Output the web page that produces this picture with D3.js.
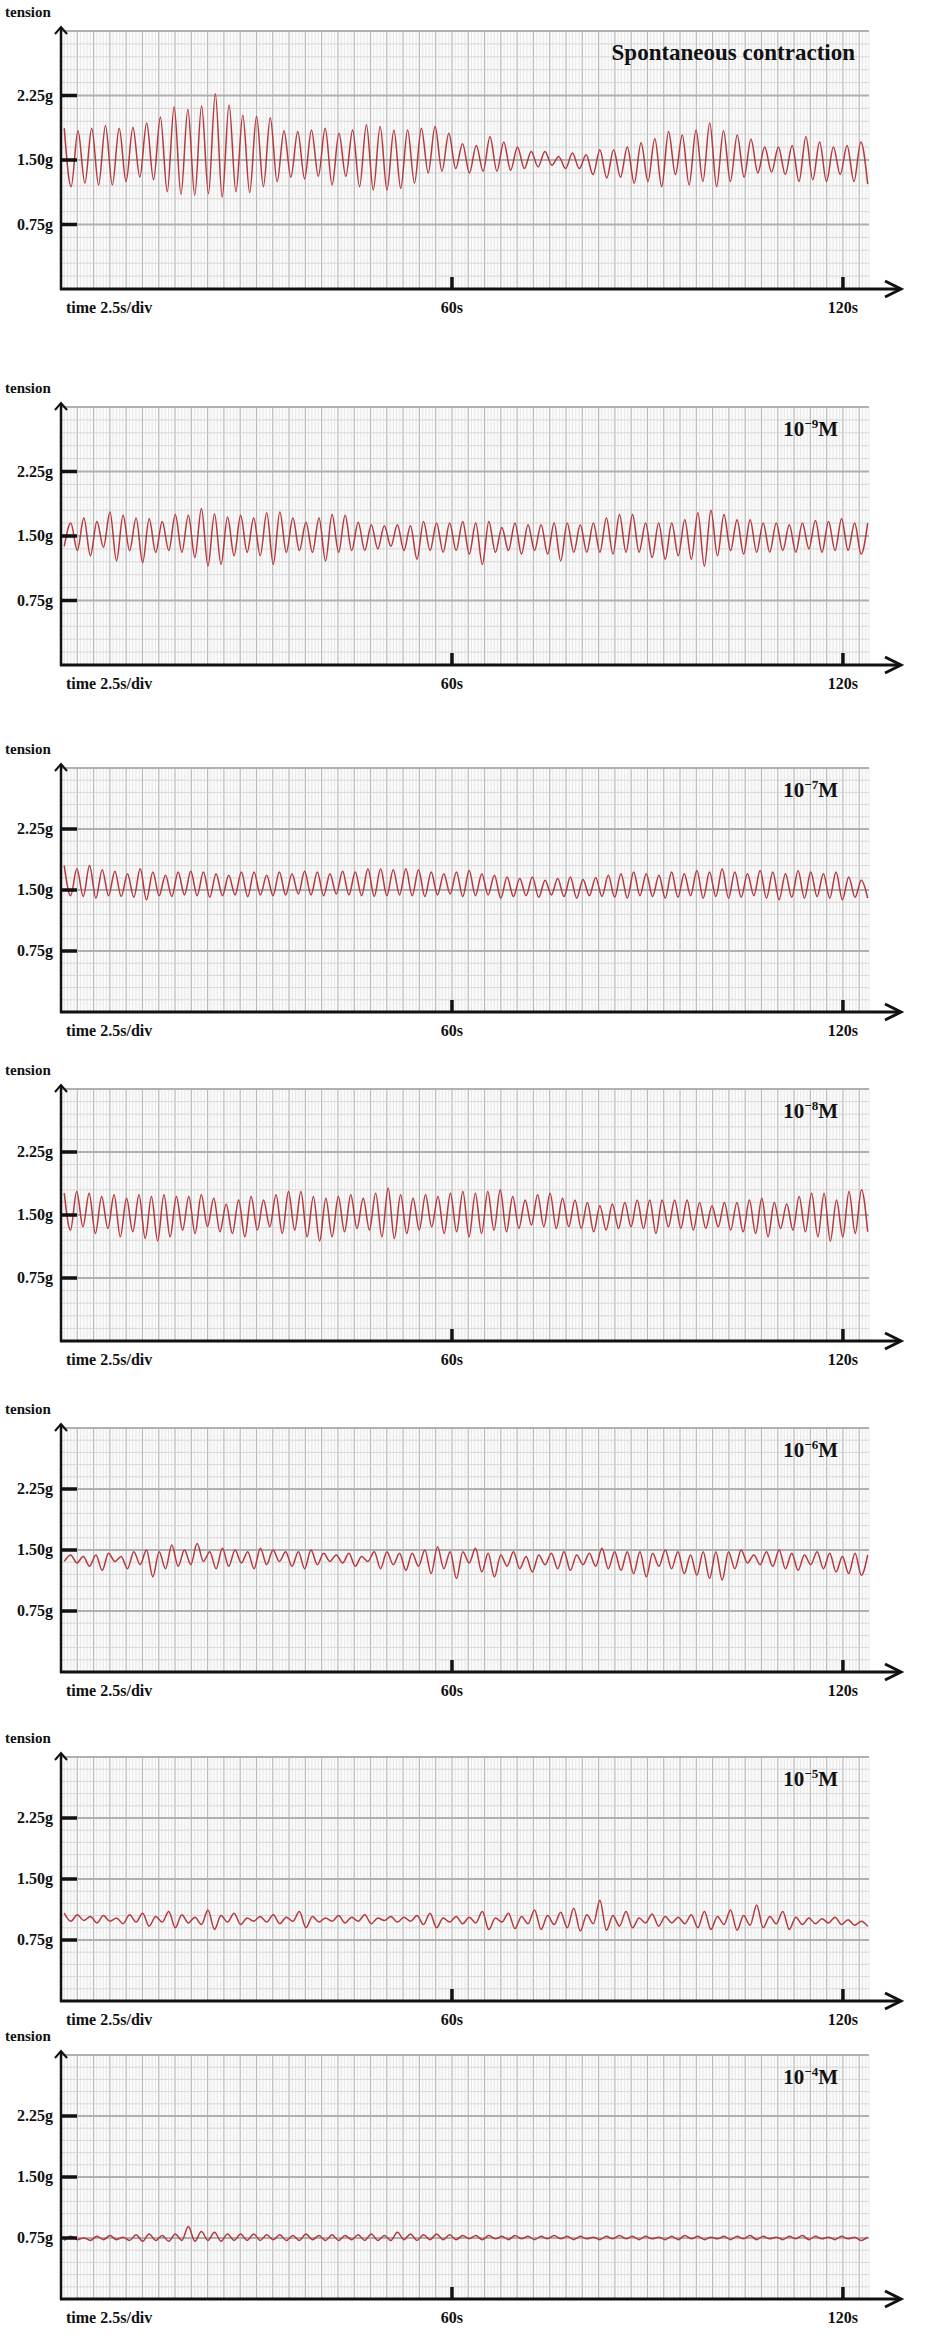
<!DOCTYPE html>
<html>
<head>
<meta charset="utf-8">
<script src="https://cdn.jsdelivr.net/npm/d3@7"></script>
<style>
  body { margin: 0; background: #fff; }
  text { font-family: "Liberation Serif", "DejaVu Serif", serif; font-weight: bold; fill: #111; }
</style>
</head>
<body>
<div id="container"></div>
<script>
// tick labels
var yTicks = [0.75, 1.5, 2.25];
var yTickLabels = ['0.75g', '1.50g', '2.25g'];
var xTicks = [60, 120];
var xTickLabels = ['60s', '120s'];

// panel titles
var titles = ['Spontaneous contraction', '10|-9|M', '10|-7|M', '10|-8|M', '10|-6|M', '10|-5|M', '10|-4|M'];

// peak / trough tension (g), left to right
var p1Peaks = [1.87,1.84,1.87,1.90,1.87,1.88,1.93,2.00,2.12,2.09,2.13,2.27,2.14,2.02,2.01,1.99,1.84,1.83,
  1.85,1.87,1.81,1.85,1.91,1.89,1.85,1.85,1.87,1.89,1.81,1.69,1.67,1.77,1.71,1.65,1.60,1.60,1.54,1.58,1.56,1.62,
  1.62,1.65,1.70,1.75,1.83,1.79,1.85,1.93,1.84,1.79,1.74,1.65,1.65,1.67,1.77,1.71,1.65,1.67,1.71];
var p1Troughs = [1.19,1.23,1.21,1.21,1.25,1.30,1.27,1.13,1.10,1.09,1.11,1.07,1.13,1.12,1.19,1.25,1.30,1.28,
  1.31,1.21,1.31,1.19,1.15,1.15,1.17,1.23,1.35,1.37,1.40,1.35,1.37,1.37,1.38,1.40,1.42,1.44,1.40,1.40,1.33,1.29,
  1.30,1.23,1.25,1.19,1.33,1.21,1.25,1.19,1.25,1.30,1.35,1.36,1.33,1.25,1.27,1.25,1.33,1.25,1.22];

var p2Peaks = [1.65,1.71,1.67,1.78,1.74,1.71,1.70,1.67,1.75,1.74,1.82,1.76,1.72,1.74,1.71,1.77,1.78,1.71,1.66,1.71,
  1.75,1.74,1.66,1.63,1.62,1.63,1.62,1.67,1.65,1.65,1.67,1.65,1.67,1.60,1.65,1.63,1.63,1.65,1.65,1.63,
  1.65,1.71,1.75,1.75,1.65,1.65,1.65,1.69,1.77,1.80,1.75,1.69,1.69,1.65,1.65,1.63,1.65,1.68,1.67,1.70,1.65,1.65];
var p2Troughs = [1.38,1.33,1.27,1.37,1.21,1.33,1.19,1.31,1.33,1.31,1.25,1.15,1.17,1.27,1.31,1.27,1.17,1.31,1.33,1.31,
  1.21,1.31,1.33,1.33,1.35,1.38,1.33,1.23,1.33,1.31,1.33,1.29,1.17,1.31,1.33,1.29,1.33,1.29,1.21,1.31,
  1.31,1.31,1.29,1.31,1.31,1.25,1.23,1.27,1.23,1.15,1.27,1.33,1.29,1.31,1.31,1.33,1.31,1.35,1.31,1.33,1.33,1.29];

var p3Peaks = [1.80,1.76,1.80,1.75,1.73,1.70,1.76,1.72,1.68,1.72,1.73,1.72,1.70,1.68,1.72,1.72,1.68,1.72,1.70,1.73,
  1.72,1.70,1.73,1.72,1.76,1.76,1.75,1.76,1.75,1.72,1.70,1.72,1.74,1.70,1.68,1.66,1.64,1.66,1.62,1.64,
  1.66,1.63,1.65,1.68,1.70,1.72,1.70,1.68,1.72,1.70,1.74,1.72,1.76,1.72,1.70,1.74,1.72,1.70,1.74,1.72,1.70,1.72,1.66,1.62];
var p3Troughs = [1.43,1.42,1.40,1.43,1.42,1.41,1.38,1.43,1.42,1.44,1.43,1.41,1.43,1.44,1.42,1.44,1.43,1.44,1.45,1.44,
  1.43,1.45,1.44,1.43,1.42,1.43,1.44,1.43,1.42,1.44,1.45,1.42,1.43,1.44,1.40,1.42,1.43,1.41,1.44,1.42,
  1.40,1.43,1.42,1.41,1.40,1.43,1.42,1.40,1.41,1.43,1.40,1.42,1.40,1.41,1.43,1.40,1.38,1.41,1.40,1.42,1.40,1.38,1.41,1.40];

var p4Peaks = [1.76,1.78,1.76,1.72,1.74,1.70,1.74,1.72,1.74,1.72,1.72,1.74,1.70,1.63,1.68,1.72,1.68,1.74,1.78,1.78,
  1.72,1.70,1.72,1.74,1.70,1.76,1.82,1.74,1.70,1.74,1.72,1.76,1.78,1.76,1.78,1.80,1.72,1.68,1.74,1.76,
  1.70,1.68,1.65,1.61,1.63,1.65,1.68,1.68,1.68,1.68,1.68,1.65,1.61,1.65,1.65,1.68,1.70,1.65,1.63,1.72,1.76,1.76,1.68,1.78,1.80];
var p4Troughs = [1.32,1.36,1.28,1.34,1.24,1.30,1.22,1.19,1.24,1.32,1.28,1.36,1.30,1.28,1.24,1.32,1.36,1.28,1.32,1.24,
  1.19,1.24,1.30,1.34,1.32,1.24,1.22,1.28,1.32,1.36,1.28,1.30,1.24,1.28,1.32,1.30,1.34,1.38,1.36,1.34,
  1.36,1.34,1.30,1.32,1.34,1.36,1.34,1.28,1.36,1.34,1.32,1.34,1.36,1.32,1.30,1.28,1.24,1.34,1.32,1.30,1.24,1.19,1.24,1.28,1.30];

var p5Peaks = [1.44,1.42,1.44,1.46,1.42,1.48,1.50,1.48,1.56,1.50,1.58,1.48,1.52,1.50,1.48,1.52,1.50,1.48,1.48,1.50,
  1.46,1.44,1.46,1.42,1.48,1.48,1.46,1.46,1.50,1.54,1.48,1.48,1.52,1.46,1.44,1.48,1.42,1.44,1.46,1.48,
  1.44,1.46,1.52,1.48,1.48,1.48,1.46,1.50,1.48,1.44,1.48,1.48,1.48,1.50,1.44,1.48,1.50,1.46,1.44,1.48,1.46,1.42,1.46,1.44];
var p5Troughs = [1.36,1.34,1.30,1.25,1.36,1.27,1.32,1.17,1.27,1.30,1.32,1.36,1.27,1.30,1.34,1.27,1.32,1.36,1.30,1.27,
  1.32,1.36,1.34,1.30,1.36,1.27,1.32,1.25,1.30,1.21,1.27,1.15,1.34,1.23,1.17,1.30,1.27,1.23,1.32,1.27,
  1.25,1.32,1.30,1.27,1.25,1.21,1.17,1.30,1.27,1.21,1.19,1.15,1.13,1.27,1.34,1.32,1.30,1.27,1.25,1.32,1.27,1.23,1.21,1.19];

var p6Peaks = [1.08,1.06,1.04,1.05,1.02,1.06,1.08,1.04,1.10,1.06,1.03,1.12,1.05,1.08,1.02,1.04,1.06,1.03,1.10,1.04,
  1.02,1.05,1.03,1.06,1.02,1.04,1.03,1.05,1.08,1.02,1.04,1.03,1.10,1.02,1.08,1.04,1.12,1.05,1.09,1.14,
  1.06,1.24,1.05,1.10,1.02,1.07,1.04,1.03,1.06,1.10,1.04,1.12,1.05,1.18,1.04,1.10,1.03,1.02,1.01,1.03,1.00,0.98];
var p6Troughs = [0.98,0.99,0.96,0.98,0.95,0.97,0.92,0.97,0.90,0.96,0.94,0.88,0.97,0.94,0.98,0.97,0.95,0.98,0.90,0.97,
  0.98,0.96,0.98,0.95,0.99,0.97,0.98,0.94,0.90,0.97,0.95,0.96,0.88,0.97,0.89,0.95,0.88,0.94,0.90,0.86,
  0.95,0.87,0.92,0.90,0.96,0.92,0.96,0.95,0.90,0.88,0.94,0.87,0.93,0.90,0.95,0.88,0.94,0.95,0.96,0.94,0.93,0.92];

var p7Peaks = [0.77,0.75,0.77,0.78,0.76,0.79,0.80,0.78,0.80,0.89,0.83,0.82,0.80,0.80,0.80,0.79,0.79,0.78,0.80,0.78,
  0.79,0.78,0.79,0.80,0.78,0.82,0.80,0.79,0.80,0.79,0.78,0.78,0.78,0.77,0.78,0.77,0.77,0.78,0.77,0.77,
  0.76,0.77,0.78,0.77,0.77,0.76,0.77,0.78,0.77,0.76,0.77,0.77,0.78,0.77,0.76,0.77,0.78,0.77,0.76,0.77,0.76,0.76];
var p7Troughs = [0.72,0.73,0.72,0.73,0.73,0.72,0.71,0.72,0.71,0.72,0.71,0.72,0.71,0.72,0.72,0.72,0.73,0.72,0.72,0.73,
  0.72,0.72,0.73,0.72,0.72,0.72,0.73,0.72,0.73,0.73,0.73,0.74,0.73,0.74,0.73,0.74,0.73,0.74,0.74,0.73,
  0.74,0.73,0.74,0.74,0.73,0.74,0.73,0.73,0.74,0.73,0.74,0.73,0.74,0.73,0.74,0.73,0.74,0.73,0.74,0.73,0.74,0.72];

var traces = [
  {peaks: p1Peaks, troughs: p1Troughs, peakFirst: true},
  {peaks: p2Peaks, troughs: p2Troughs, peakFirst: false},
  {peaks: p3Peaks, troughs: p3Troughs, peakFirst: true},
  {peaks: p4Peaks, troughs: p4Troughs, peakFirst: true},
  {peaks: p5Peaks, troughs: p5Troughs, peakFirst: false},
  {peaks: p6Peaks, troughs: p6Troughs, peakFirst: true},
  {peaks: p7Peaks, troughs: p7Troughs, peakFirst: false}
];

// layout of each panel: x-axis baseline and height of 0.75g
var axisYs = [289, 665, 1012, 1341, 1672, 2001, 2299];
var units = [64.5, 64.5, 61, 63, 61, 61, 61];

var width = 931, height = 2335;
var x = d3.scaleLinear().domain([0, 124]).range([61, 869]);

var svg = d3.select('#container').append('svg')
  .attr('width', width).attr('height', height);

var line = d3.line().curve(d3.curveMonotoneX);

axisYs.forEach(function(axisY, p) {
  var y = d3.scaleLinear().domain([0, 3]).range([axisY, axisY - 4 * units[p]]);
  var g = svg.append('g');
  var top = y(3);

  // paper grid
  var grid = g.append('g');
  grid.append('rect').attr('x', x(0)).attr('y', top).attr('width', x(124) - x(0)).attr('height', axisY - top)
    .attr('fill', '#fbfbfb');
  d3.range(0, 124.01, 0.5).forEach(function(t, i) {
    var major = i % 5 === 0;
    grid.append('line').attr('x1', x(t)).attr('x2', x(t)).attr('y1', top).attr('y2', axisY)
      .attr('stroke', major ? '#b9b9b9' : '#dcdcdc').attr('stroke-width', major ? 1.2 : 0.6);
  });
  d3.range(0, 3.001, 0.15).forEach(function(v, i) {
    var major = i % 5 === 0;
    grid.append('line').attr('x1', x(0)).attr('x2', x(124)).attr('y1', y(v)).attr('y2', y(v))
      .attr('stroke', major ? '#b0b0b0' : '#cfcfcf').attr('stroke-width', major ? 2 : 0.8);
  });

  // trace
  var tr = traces[p];
  var n = Math.min(tr.peaks.length, tr.troughs.length);
  var ext = [];
  for (var i = 0; i < n; i++) {
    if (tr.peakFirst) { ext.push(tr.peaks[i]); ext.push(tr.troughs[i]); }
    else { ext.push(tr.troughs[i]); ext.push(tr.peaks[i]); }
  }
  var tScale = d3.scaleLinear().domain([0, ext.length - 1]).range([0.5, 123.8]);
  var pts = ext.map(function(v, i) { return [x(tScale(i)), y(v)]; });
  g.append('path').attr('d', line(pts)).attr('fill', 'none')
    .attr('stroke', '#b5383c').attr('stroke-width', 1.5).attr('stroke-linejoin', 'round');

  // y axis with arrow
  g.append('line').attr('x1', x(0)).attr('x2', x(0)).attr('y1', axisY + 1).attr('y2', top - 4)
    .attr('stroke', '#111').attr('stroke-width', 2.5);
  g.append('path').attr('d', 'M' + (x(0) - 6) + ',' + (top + 3) + 'L' + x(0) + ',' + (top - 4) + 'L' + (x(0) + 6) + ',' + (top + 3))
    .attr('fill', 'none').attr('stroke', '#111').attr('stroke-width', 2);
  yTicks.forEach(function(v, i) {
    g.append('line').attr('x1', x(0)).attr('x2', x(0) + 16).attr('y1', y(v)).attr('y2', y(v))
      .attr('stroke', '#111').attr('stroke-width', 3.5);
    g.append('text').attr('x', 53).attr('y', y(v) + 5).attr('text-anchor', 'end')
      .attr('font-size', 16).text(yTickLabels[i]);
  });
  g.append('text').attr('x', 5).attr('y', top - 14).attr('font-size', 15).text('tension');

  // x axis with arrow
  g.append('line').attr('x1', x(0) - 1).attr('x2', 900).attr('y1', axisY).attr('y2', axisY)
    .attr('stroke', '#111').attr('stroke-width', 3);
  g.append('path').attr('d', 'M885,' + (axisY - 8) + 'L901,' + axisY + 'L885,' + (axisY + 8))
    .attr('fill', 'none').attr('stroke', '#111').attr('stroke-width', 3);
  xTicks.forEach(function(t, i) {
    g.append('line').attr('x1', x(t)).attr('x2', x(t)).attr('y1', axisY).attr('y2', axisY - 12)
      .attr('stroke', '#111').attr('stroke-width', 3.5);
    g.append('text').attr('x', x(t)).attr('y', axisY + 24).attr('text-anchor', 'middle')
      .attr('font-size', 16).text(xTickLabels[i]);
  });
  g.append('text').attr('x', 66).attr('y', axisY + 24).attr('font-size', 16).text('time 2.5s/div');

  // title
  var parts = titles[p].split('|');
  var tt = g.append('text').attr('text-anchor', 'end').attr('y', top + 29);
  if (parts.length === 1) {
    tt.attr('x', 855).attr('font-size', 23).text(parts[0]);
  } else {
    tt.attr('x', 838).attr('font-size', 21);
    tt.append('tspan').text(parts[0]);
    tt.append('tspan').attr('font-size', 13).attr('dy', -8).text('\u2212' + parts[1].replace('-', ''));
    tt.append('tspan').attr('dy', 8).text(parts[2]);
  }
});
</script>
</body>
</html>
